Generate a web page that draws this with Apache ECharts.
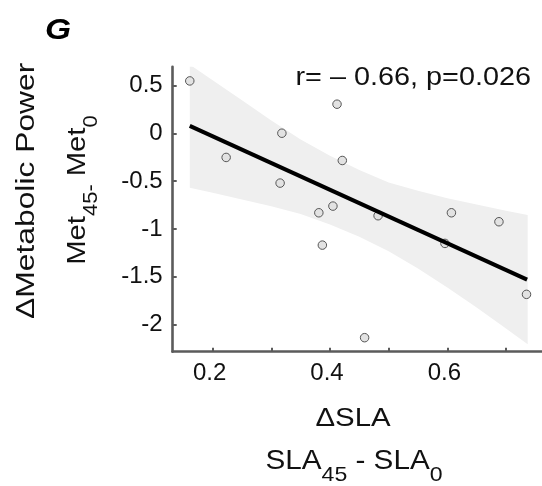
<!DOCTYPE html>
<html>
<head>
<meta charset="utf-8">
<script src="https://cdn.jsdelivr.net/npm/echarts@6/dist/echarts.min.js"></script>
<style>
  html, body { margin: 0; padding: 0; background: #fff; }
  #chart { width: 542px; height: 486px; }
</style>
</head>
<body>
<div id="chart"></div>
<script>
// Change in stance-leg angle vs change in metabolic power, one point per subject
const slaDelta = [0.161, 0.223, 0.318, 0.315, 0.412, 0.421, 0.381, 0.405, 0.387, 0.482, 0.459, 0.607, 0.596, 0.688, 0.735];
const metDelta = [0.551, -0.251, 0.003, -0.520, 0.307, -0.283, -0.831, -0.761, -1.170, -0.862, -2.140, -0.831, -1.152, -0.925, -1.686];

// Least-squares fit line (end points)
const fitX = [0.161, 0.736];
const fitY = [0.080, -1.532];

// 95% confidence band around the fit
const bandX = [0.161, 0.2, 0.25, 0.3, 0.35, 0.4, 0.45, 0.5, 0.55, 0.6, 0.65, 0.7, 0.737];
const bandUpper = [0.722, 0.558, 0.348, 0.137, -0.063, -0.233, -0.383, -0.514, -0.600, -0.680, -0.745, -0.810, -0.855];
const bandLower = [-0.568, -0.622, -0.692, -0.763, -0.843, -0.953, -1.083, -1.234, -1.414, -1.614, -1.824, -2.045, -2.208];

// Axis ticks and labels
const xTicks = [0.2, 0.3, 0.4, 0.5, 0.6, 0.7];
const xLabels = [0.2, 0.4, 0.6];
const yTicks = [-2, -1.5, -1, -0.5, 0, 0.5];

const statText = 'r= \u2013 0.66, p=0.026';

const FONT = '"Liberation Sans", Arial, Helvetica, sans-serif';
const AXIS_GREY = '#5b5b5b';
const TEXT = '#111';

const chart = echarts.init(document.getElementById('chart'), null, { renderer: 'canvas' });

// rich-text styles for a main run followed by a lowered subscript run
function subRich(mainSize, subSize, drop) {
  const pad = drop + (mainSize - subSize) / 2;
  return {
    m: { fontSize: mainSize, fontFamily: FONT, lineHeight: 50, verticalAlign: 'top', fill: TEXT },
    s: { fontSize: subSize, fontFamily: FONT, lineHeight: 50, verticalAlign: 'top', padding: [pad, 0, 0, 0], fill: TEXT }
  };
}

chart.setOption({
  animation: false,
  backgroundColor: '#fff',
  grid: { left: 172.7, top: 66.7, right: 0, bottom: 134.3, containLabel: false },
  xAxis: {
    type: 'value',
    min: 0.1319,
    max: 0.7614,
    axisLine: { onZero: false, lineStyle: { color: AXIS_GREY, width: 2.6 } },
    axisTick: { inside: true, length: 4, customValues: xTicks, lineStyle: { color: AXIS_GREY, width: 2 } },
    axisLabel: {
      customValues: xLabels, margin: 10, fontSize: 24, color: TEXT, fontFamily: FONT,
      padding: [0, 6, 0, 0],
      formatter: v => String(v)
    },
    splitLine: { show: false }
  },
  yAxis: {
    type: 'value',
    min: -2.287,
    max: 0.70,
    axisLine: { show: true, onZero: false, lineStyle: { color: AXIS_GREY, width: 2.6 } },
    axisTick: { show: true, inside: true, length: 4, customValues: yTicks, lineStyle: { color: AXIS_GREY, width: 2 } },
    axisLabel: {
      customValues: yTicks, margin: 10, fontSize: 24, color: TEXT, fontFamily: FONT,
      formatter: v => String(v)
    },
    splitLine: { show: false }
  },
  series: [
    {
      // confidence band as one closed polygon
      type: 'custom',
      clip: true,
      silent: true,
      z: 1,
      data: [[bandX[0], bandUpper[0]]],
      renderItem: (params, api) => {
        const pts = [];
        for (let i = 0; i < bandX.length; i++) pts.push(api.coord([bandX[i], bandUpper[i]]));
        for (let i = bandX.length - 1; i >= 0; i--) pts.push(api.coord([bandX[i], bandLower[i]]));
        return { type: 'polygon', shape: { points: pts }, style: { fill: '#efefef', stroke: null } };
      }
    },
    {
      type: 'scatter',
      z: 2,
      symbol: 'circle',
      symbolSize: 8.5,
      data: slaDelta.map((x, i) => [x, metDelta[i]]),
      itemStyle: { color: '#e2e2e2', borderColor: '#555', borderWidth: 1, opacity: 1 }
    },
    {
      type: 'line',
      z: 3,
      symbol: 'none',
      data: fitX.map((x, i) => [x, fitY[i]]),
      lineStyle: { color: '#000', width: 4, cap: 'butt' }
    }
  ],
  graphic: [
    {
      type: 'text', x: 58, y: 30.5, scaleX: 1.12,
      style: { text: 'G', font: 'italic bold 30px ' + FONT, fill: '#000', align: 'center', verticalAlign: 'middle' }
    },
    {
      type: 'text', x: 26.3, y: 190.8, rotation: Math.PI / 2, scaleX: 1.2,
      style: { text: '\u0394Metabolic Power', font: '26.5px ' + FONT, fill: TEXT, align: 'center', verticalAlign: 'middle' }
    },
    {
      type: 'text', x: 89.5, y: 190, rotation: Math.PI / 2, scaleX: 1.1,
      style: {
        text: '{m|Met}{s|45-}{m| Met}{s|0}',
        align: 'center', verticalAlign: 'middle', fill: TEXT,
        rich: subRich(26.5, 20, 14)
      }
    },
    {
      type: 'text', x: 531, y: 77.5, scaleX: 1.13,
      style: { text: statText, font: '25.5px ' + FONT, fill: TEXT, align: 'right', verticalAlign: 'middle' }
    },
    {
      type: 'text', x: 353, y: 419.2, scaleX: 1.13,
      style: { text: '\u0394SLA', font: '26px ' + FONT, fill: TEXT, align: 'center', verticalAlign: 'middle' }
    },
    {
      type: 'text', x: 354, y: 473.5, scaleX: 1.1,
      style: {
        text: '{m|SLA}{s|45}{m| - SLA}{s|0}',
        align: 'center', verticalAlign: 'middle', fill: TEXT,
        rich: subRich(27, 21, 13.7)
      }
    }
  ]
});
</script>
</body>
</html>
